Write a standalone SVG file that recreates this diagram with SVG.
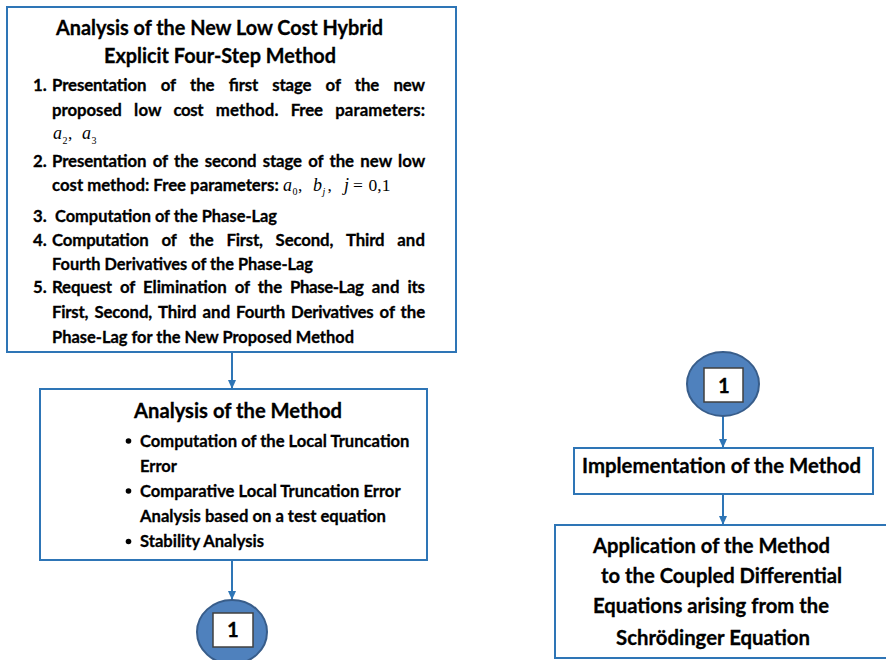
<svg xmlns="http://www.w3.org/2000/svg" width="886" height="660" viewBox="0 0 886 660">
<defs>
<marker id="ah" markerWidth="9" markerHeight="8" refX="9" refY="4" orient="auto" markerUnits="userSpaceOnUse">
<path d="M0,0 L9,4 L0,8 z" fill="#2E75B6"/>
</marker>
<style>
.box{fill:#fff;stroke:#2E75B6;stroke-width:2}
.t{font-family:Lato,"Liberation Sans",sans-serif;font-weight:bold;fill:#000;stroke:#000;stroke-width:0.3}
.h{font-size:20.3px}
.b{font-size:16.8px}
.m{font-family:"Liberation Serif","Times New Roman",serif;font-style:italic;font-size:18px;fill:#000}
.u{font-family:"Liberation Serif","Times New Roman",serif;font-size:17.5px;fill:#000}
.s{font-family:"Liberation Serif","Times New Roman",serif;font-size:10px;fill:#000}
.c{fill:#4F81BD;stroke:#385D8A;stroke-width:2}
.sq{fill:#fff;stroke:#404040;stroke-width:1.5}
.conn line{stroke:#2E75B6;stroke-width:2;marker-end:url(#ah)}
</style>
</defs>

<g id="connectors" class="conn">
<line x1="232" y1="352" x2="232" y2="389"/>
<line x1="232" y1="560" x2="232" y2="600"/>
<line x1="723" y1="416" x2="723" y2="448"/>
<line x1="723" y1="494" x2="723" y2="525"/>
</g>

<g id="node-analysis-new-method">
<rect class="box" x="7" y="7" width="449" height="345"/>
<text class="t h" x="56" y="35" textLength="327" lengthAdjust="spacingAndGlyphs">Analysis of the New Low Cost Hybrid</text>
<text class="t h" x="104" y="63" textLength="232" lengthAdjust="spacingAndGlyphs">Explicit Four-Step Method</text>

<text class="t b" y="91"><tspan x="33">1.</tspan> <tspan x="52" textLength="94.5">Presentation</tspan> <tspan x="160.7" textLength="15.1">of</tspan> <tspan x="190" textLength="24.5">the</tspan> <tspan x="228.6" textLength="29.4">first</tspan> <tspan x="272.2" textLength="39.2">stage</tspan> <tspan x="325.5" textLength="15.1">of</tspan> <tspan x="354.8" textLength="24.5">the</tspan> <tspan x="393.4" textLength="31.6">new</tspan></text>
<text class="t b" y="115.7"><tspan x="52" textLength="69.8">proposed</tspan> <tspan x="134.1" textLength="27.1">low</tspan> <tspan x="173.4" textLength="30.1">cost</tspan> <tspan x="215.8" textLength="62.7">method.</tspan> <tspan x="290.7" textLength="32.2">Free</tspan> <tspan x="335.2" textLength="89.8">parameters:</tspan></text>
<text class="m" x="53" y="139">a</text>
<text class="s" x="62.5" y="143.5">2</text>
<text class="u" x="68" y="139">,</text>
<text class="m" x="82" y="139">a</text>
<text class="s" x="91.5" y="143.5">3</text>

<text class="t b" y="166.7"><tspan x="33">2.</tspan> <tspan x="52" textLength="94.5">Presentation</tspan> <tspan x="152.7" textLength="15.1">of</tspan> <tspan x="174" textLength="24.5">the</tspan> <tspan x="204.7" textLength="51.9">second</tspan> <tspan x="262.8" textLength="39.2">stage</tspan> <tspan x="308.2" textLength="15.1">of</tspan> <tspan x="329.5" textLength="24.5">the</tspan> <tspan x="360.2" textLength="31.6">new</tspan> <tspan x="398" textLength="27.1">low</tspan></text>
<text class="t b" x="52" y="190.7" textLength="226.7" lengthAdjust="spacingAndGlyphs">cost method: Free parameters:</text>
<text class="m" x="283" y="190.7">a</text>
<text class="s" x="292.5" y="195.2">0</text>
<text class="u" x="298" y="190.7">,</text>
<text class="m" x="313" y="190.7">b</text>
<text class="s" x="322.5" y="195.2" font-style="italic">j</text>
<text class="u" x="327.5" y="190.7">,</text>
<text class="m" x="344" y="190.7">j</text>
<text class="u" x="353" y="190.7">=</text>
<text class="u" x="368.5" y="190.7">0,1</text>

<text class="t b" y="221.7"><tspan x="33">3.</tspan> <tspan x="55" textLength="222" lengthAdjust="spacingAndGlyphs">Computation of the Phase-Lag</tspan></text>

<text class="t b" y="246"><tspan x="33">4.</tspan> <tspan x="52" textLength="96.7">Computation</tspan> <tspan x="161.4" textLength="15.1">of</tspan> <tspan x="189.2" textLength="24.5">the</tspan> <tspan x="226.4" textLength="36.5">First,</tspan> <tspan x="275.6" textLength="57.8">Second,</tspan> <tspan x="346.1" textLength="38.4">Third</tspan> <tspan x="397.2" textLength="27.8">and</tspan></text>
<text class="t b" x="52" y="270" textLength="261" lengthAdjust="spacingAndGlyphs">Fourth Derivatives of the Phase-Lag</text>

<text class="t b" y="293.3"><tspan x="33">5.</tspan> <tspan x="52" textLength="60">Request</tspan> <tspan x="119.9" textLength="15.1">of</tspan> <tspan x="142.9" textLength="83.9">Elimination</tspan> <tspan x="234.7" textLength="15.1">of</tspan> <tspan x="257.7" textLength="24.5">the</tspan> <tspan x="290.1" textLength="73.7">Phase-Lag</tspan> <tspan x="371.7" textLength="27.8">and</tspan> <tspan x="407.4" textLength="17.6">its</tspan></text>
<text class="t b" y="317.7"><tspan x="52" textLength="36.5">First,</tspan> <tspan x="94.4" textLength="57.8">Second,</tspan> <tspan x="158.1" textLength="38.4">Third</tspan> <tspan x="202.4" textLength="27.8">and</tspan> <tspan x="236.1" textLength="49.1">Fourth</tspan> <tspan x="291.1" textLength="82.6">Derivatives</tspan> <tspan x="379.6" textLength="15.1">of</tspan> <tspan x="400.6" textLength="24.5">the</tspan></text>
<text class="t b" x="52" y="343" textLength="302" lengthAdjust="spacingAndGlyphs">Phase-Lag for the New Proposed Method</text>
</g>

<g id="node-analysis-method">
<rect class="box" x="40" y="389" width="387" height="171"/>
<text class="t h" x="134" y="418" textLength="208" lengthAdjust="spacingAndGlyphs">Analysis of the Method</text>
<circle cx="128.5" cy="441" r="2.8" fill="#000"/>
<circle cx="128.5" cy="491" r="2.8" fill="#000"/>
<circle cx="128.5" cy="541.5" r="2.8" fill="#000"/>
<text class="t b" x="140" y="446.7" textLength="269.5" lengthAdjust="spacingAndGlyphs">Computation of the Local Truncation</text>
<text class="t b" x="140" y="471.7" textLength="37" lengthAdjust="spacingAndGlyphs">Error</text>
<text class="t b" x="140" y="496.7" textLength="260.6" lengthAdjust="spacingAndGlyphs">Comparative Local Truncation Error</text>
<text class="t b" x="140" y="521.7" textLength="246" lengthAdjust="spacingAndGlyphs">Analysis based on a test equation</text>
<text class="t b" x="140" y="547.3" textLength="124" lengthAdjust="spacingAndGlyphs">Stability Analysis</text>
</g>

<g id="node-connector-1-out">
<ellipse class="c" cx="232" cy="632" rx="35" ry="32"/>
<rect class="sq" x="213" y="613" width="40" height="34"/>
<text class="t h" x="233" y="637" text-anchor="middle">1</text>
</g>

<g id="node-connector-1-in">
<ellipse class="c" cx="723" cy="384" rx="36" ry="32"/>
<rect class="sq" x="704" y="368" width="39" height="34"/>
<text class="t h" x="724" y="392.7" text-anchor="middle">1</text>
</g>

<g id="node-implementation">
<rect class="box" x="574" y="448" width="299" height="46"/>
<text class="t h" x="582" y="473.3" textLength="279" lengthAdjust="spacingAndGlyphs">Implementation of the Method</text>
</g>

<g id="node-application">
<rect class="box" x="555" y="525" width="340" height="133"/>
<text class="t h" x="593" y="553.3" textLength="237" lengthAdjust="spacingAndGlyphs">Application of the Method</text>
<text class="t h" x="601" y="583.3" textLength="241" lengthAdjust="spacingAndGlyphs">to the Coupled Differential</text>
<text class="t h" x="593" y="613.3" textLength="236" lengthAdjust="spacingAndGlyphs">Equations arising from the</text>
<text class="t h" x="616" y="645" textLength="194" lengthAdjust="spacingAndGlyphs">Schrödinger Equation</text>
</g>
</svg>
